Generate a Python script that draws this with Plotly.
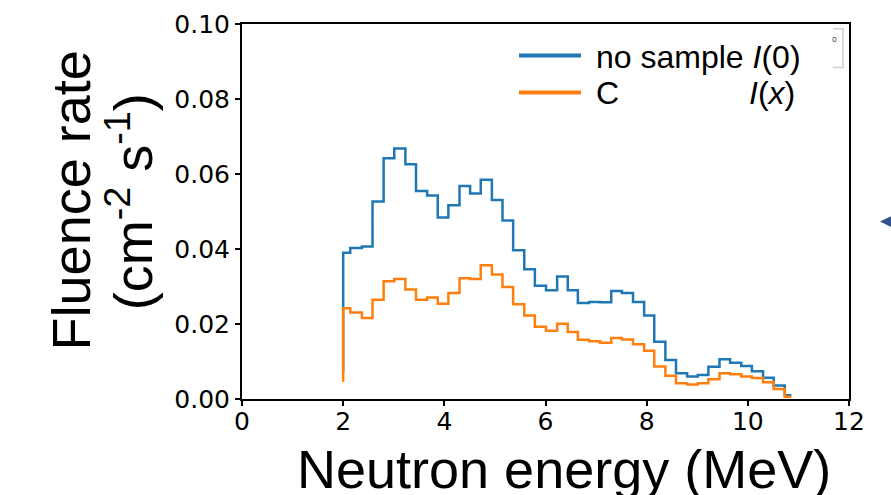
import plotly.graph_objects as go

# ---- data ----
energy_edges = [2.00, 2.14, 2.37, 2.58, 2.80, 3.01, 3.23, 3.44, 3.66, 3.87, 4.08,
                4.30, 4.51, 4.72, 4.94, 5.15, 5.36, 5.58, 5.79, 6.01, 6.23, 6.44,
                6.64, 6.86, 7.08, 7.30, 7.51, 7.73, 7.95, 8.15, 8.37, 8.58, 8.80,
                9.01, 9.22, 9.44, 9.65, 9.87, 10.08, 10.30, 10.51, 10.73, 10.86]
no_sample = [0.0072, 0.0390, 0.0403, 0.0407, 0.0527, 0.0642, 0.0668, 0.0626, 0.0555,
             0.0543, 0.0484, 0.0517, 0.0568, 0.0548, 0.0585, 0.0531, 0.0476, 0.0397,
             0.0346, 0.0302, 0.0290, 0.0327, 0.0290, 0.0256, 0.0259, 0.0258, 0.0288,
             0.0283, 0.0259, 0.0223, 0.0153, 0.0104, 0.0069, 0.0060, 0.0064, 0.0086,
             0.0106, 0.0097, 0.0088, 0.0074, 0.0057, 0.0036, 0.0010]
carbon = [0.0046, 0.0242, 0.0231, 0.0216, 0.0265, 0.0314, 0.0320, 0.0292, 0.0265,
          0.0271, 0.0254, 0.0283, 0.0322, 0.0320, 0.0357, 0.0332, 0.0299, 0.0253,
          0.0223, 0.0193, 0.0182, 0.0201, 0.0179, 0.0158, 0.0154, 0.0150, 0.0163,
          0.0159, 0.0146, 0.0129, 0.0087, 0.0062, 0.0042, 0.0039, 0.0042, 0.0053,
          0.0069, 0.0066, 0.0060, 0.0056, 0.0045, 0.0027, 0.0006]
x_ticks = [0, 2, 4, 6, 8, 10, 12]
y_ticks = [0.00, 0.02, 0.04, 0.06, 0.08, 0.10]

BLUE = "#1f77b4"
ORANGE = "#ff7f0e"

# figure geometry (pixels)
W_FIG, H_FIG = 891, 495
L, R, T, B = 242, 42, 10, 96
PW = W_FIG - L - R
PH = H_FIG - T - B


def px_x(p):
    return (p - L) / PW


def px_y(p):
    return (H_FIG - B - p) / PH


fig = go.Figure()
fig.add_trace(go.Scatter(x=energy_edges, y=no_sample, mode="lines",
                         line=dict(color=BLUE, width=2.5, shape="vh"),
                         name="no sample I(0)", showlegend=False))
fig.add_trace(go.Scatter(x=energy_edges, y=carbon, mode="lines",
                         line=dict(color=ORANGE, width=2.5, shape="vh"),
                         name="C I(x)", showlegend=False))

tick_font = dict(family="DejaVu Sans", size=25, color="black")
fig.update_xaxes(range=[0, 12], tickvals=x_ticks, ticktext=[str(v) for v in x_ticks],
                 showgrid=False, zeroline=False, showline=True, linecolor="black",
                 linewidth=2, mirror=True, ticks="outside", ticklen=5, tickwidth=1.5,
                 tickcolor="black", tickfont=tick_font, ticklabelstandoff=-6,
                 ticklabeloverflow="allow")
fig.update_yaxes(range=[0, 0.1], tickvals=y_ticks, ticktext=[f"{v:.2f}" for v in y_ticks],
                 showgrid=False, zeroline=False, showline=True, linecolor="black",
                 linewidth=2, mirror=True, ticks="outside", ticklen=5, tickwidth=1.5,
                 tickcolor="black", tickfont=tick_font, ticklabeloverflow="allow")

title_font = dict(family="Liberation Sans, Arial", size=54, color="black")
legend_font = dict(family="Liberation Sans, Arial", size=32, color="black")

annotations = [
    # x axis title
    dict(text="Neutron energy (MeV)", xref="paper", yref="paper",
         x=px_x(564), y=px_y(472), xanchor="center", yanchor="middle",
         showarrow=False, font=title_font),
    # y axis title (two lines)
    dict(text="Fluence rate", xref="paper", yref="paper", textangle=-90,
         x=px_x(71), y=px_y(193), xanchor="center", yanchor="middle",
         showarrow=False, font=title_font),
    dict(text="(cm<sup>-2</sup> s<sup>-1</sup>)", xref="paper", yref="paper", textangle=-90,
         x=px_x(130), y=px_y(195), xanchor="center", yanchor="middle",
         showarrow=False, font=title_font),
    # legend texts
    dict(text="no sample <i>I</i>(0)", xref="paper", yref="paper",
         x=px_x(594), y=px_y(44), xanchor="left", yanchor="middle",
         showarrow=False, font=legend_font),
    dict(text="C", xref="paper", yref="paper",
         x=px_x(594), y=px_y(82), xanchor="left", yanchor="middle",
         showarrow=False, font=legend_font),
    dict(text="<i>I</i>(<i>x</i>)", xref="paper", yref="paper",
         x=px_x(797), y=px_y(82), xanchor="right", yanchor="middle",
         showarrow=False, font=legend_font),
]

shapes = [
    # legend line samples
    dict(type="line", xref="paper", yref="paper", x0=px_x(519), x1=px_x(581),
         y0=px_y(42.7), y1=px_y(42.7), line=dict(color=BLUE, width=4)),
    dict(type="line", xref="paper", yref="paper", x0=px_x(519), x1=px_x(581),
         y0=px_y(81), y1=px_y(81), line=dict(color=ORANGE, width=4)),
    # small grey frame fragment at top right
    dict(type="path", xref="paper", yref="paper",
         path=f"M {px_x(833)} {px_y(15)} L {px_x(843)} {px_y(15)} L {px_x(843)} {px_y(55)} L {px_x(833)} {px_y(55)}",
         line=dict(color="#d0d0d0", width=1.5)),
    dict(type="rect", xref="paper", yref="paper", x0=px_x(833), x1=px_x(836),
         y0=px_y(24), y1=px_y(28), line=dict(color="#777777", width=1)),
    # blue arrow head at right edge
    dict(type="path", xref="paper", yref="paper",
         path=f"M {px_x(880)} {px_y(215)} L {px_x(892)} {px_y(209)} L {px_x(892)} {px_y(221)} Z",
         fillcolor="#34508f", line=dict(color="#34508f", width=0)),
]

fig.update_layout(width=W_FIG, height=H_FIG,
                  margin=dict(l=L, r=R, t=T, b=B),
                  paper_bgcolor="white", plot_bgcolor="white",
                  annotations=annotations, shapes=shapes, showlegend=False)

fig.write_html("out.html", config={"displayModeBar": False},
               post_script="document.body.style.margin='0';document.body.style.padding='0';")
